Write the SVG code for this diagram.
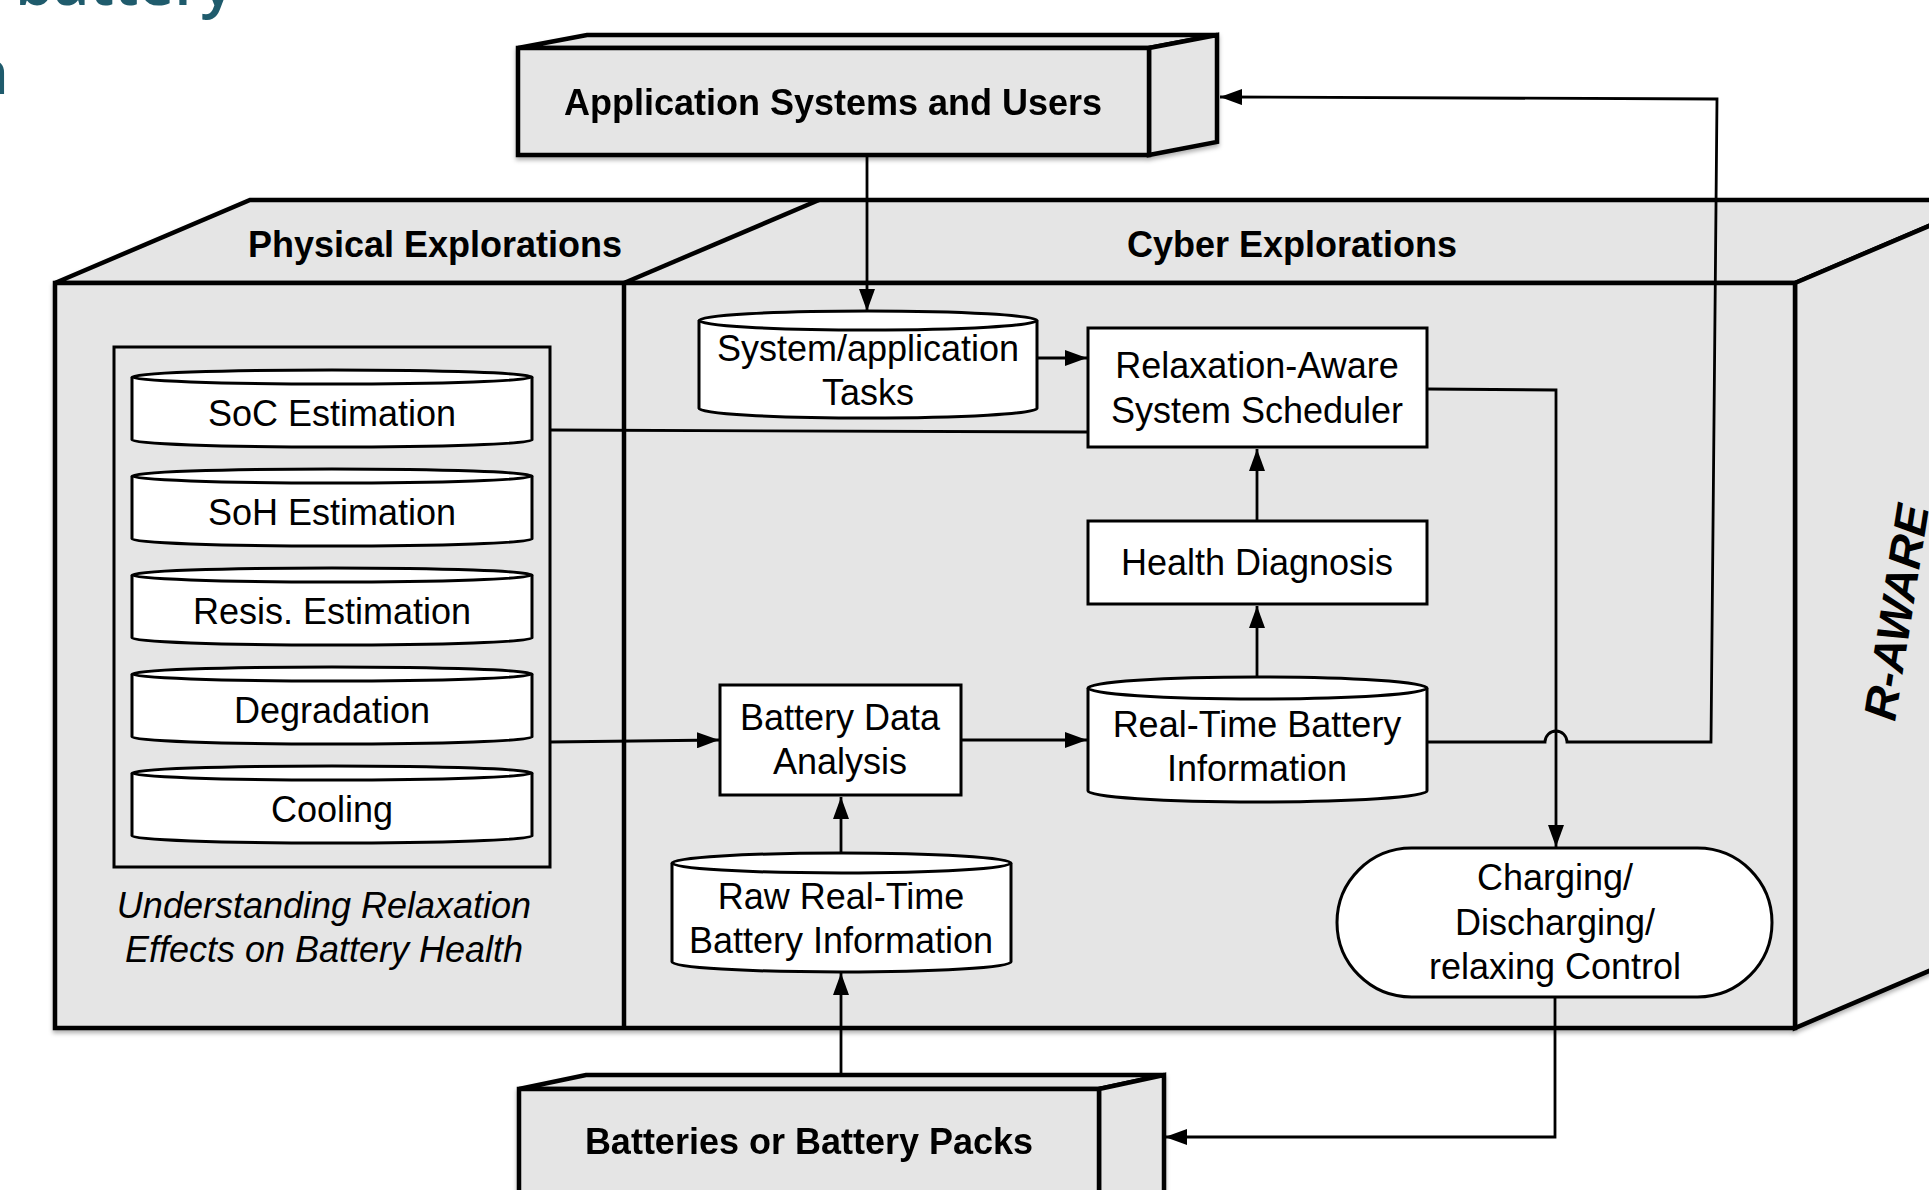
<svg xmlns="http://www.w3.org/2000/svg" width="1929" height="1190" viewBox="0 0 1929 1190">
<defs>
<style>
.box3d{fill:#e5e5e5;stroke:#000;stroke-width:4.5;stroke-linejoin:miter}
.node{fill:#fff;stroke:#000;stroke-width:3}
.rim{fill:none;stroke:#000;stroke-width:3}
.conn{fill:none;stroke:#000;stroke-width:2.8}
.arr{marker-end:url(#ah)}
.t{font-family:"Liberation Sans",Arial,Helvetica,sans-serif;font-size:36px;text-anchor:middle;fill:#000}
.b{font-weight:bold}
.i{font-style:italic}
.teal{font-family:"Open Sans","Noto Sans",sans-serif;font-size:62px;font-weight:600;fill:#1f5b6c}
</style>
<marker id="ah" markerUnits="userSpaceOnUse" markerWidth="22" markerHeight="16" refX="22" refY="8" orient="auto">
<path d="M0,0 L22,8 L0,16 Z" fill="#000"/>
</marker>
<filter id="sh" x="-5%" y="-5%" width="110%" height="115%">
<feDropShadow dx="0" dy="3" stdDeviation="2" flood-color="#000" flood-opacity="0.3"/>
</filter>
</defs>
<rect width="1929" height="1190" fill="#fff"/>

<text class="teal" x="15" y="5">battery</text>
<text class="teal" x="9" y="94" text-anchor="end">n</text>

<g id="r-aware-container" filter="url(#sh)">
<polygon class="box3d" points="55,283 250,200 1990,200 1795,283"/>
<polygon class="box3d" points="1795,283 1990,200 1990,945 1795,1028"/>
<rect class="box3d" x="55" y="283" width="1740" height="745"/>
<line x1="624" y1="283" x2="624" y2="1028" stroke="#000" stroke-width="4.5"/>
<line x1="624" y1="283" x2="819" y2="200" stroke="#000" stroke-width="4.5"/>
</g>
<text class="t b" x="435" y="257">Physical Explorations</text>
<text class="t b" x="1292" y="257">Cyber Explorations</text>
<text class="t b i" style="font-size:46px;text-anchor:start" transform="translate(1895,722) rotate(-81)">R-AWARE</text>

<g id="app-systems" filter="url(#sh)">
<polygon class="box3d" points="518,48 587,35 1217,35 1149,48"/>
<polygon class="box3d" points="1149,48 1217,35 1217,142 1149,155"/>
<rect class="box3d" x="518" y="48" width="631" height="107"/>
<text class="t b" x="833" y="115">Application Systems and Users</text>
</g>

<g id="batteries" filter="url(#sh)">
<polygon class="box3d" points="519,1089 586,1075 1164,1075 1099,1089"/>
<polygon class="box3d" points="1099,1089 1164,1075 1164,1192 1099,1206"/>
<rect class="box3d" x="519" y="1089" width="580" height="120"/>
<text class="t b" x="809" y="1154">Batteries or Battery Packs</text>
</g>

<g id="physical-group">
<rect x="114" y="347" width="436" height="520" fill="none" stroke="#000" stroke-width="3"/>
<text class="t i" x="324" y="918">Understanding Relaxation</text>
<text class="t i" x="324" y="962">Effects on Battery Health</text>
</g>

<g id="soc">
<path class="node" d="M132,377 V440 A200,7 0 0 0 532,440 V377 A200,7 0 0 0 132,377 Z"/>
<path class="rim" d="M132,377 A200,7 0 0 0 532,377"/>
<text class="t" x="332" y="426">SoC Estimation</text>
</g>
<g id="soh">
<path class="node" d="M132,476 V539 A200,7 0 0 0 532,539 V476 A200,7 0 0 0 132,476 Z"/>
<path class="rim" d="M132,476 A200,7 0 0 0 532,476"/>
<text class="t" x="332" y="525">SoH Estimation</text>
</g>
<g id="resis">
<path class="node" d="M132,575 V638 A200,7 0 0 0 532,638 V575 A200,7 0 0 0 132,575 Z"/>
<path class="rim" d="M132,575 A200,7 0 0 0 532,575"/>
<text class="t" x="332" y="624">Resis. Estimation</text>
</g>
<g id="degradation">
<path class="node" d="M132,674 V737 A200,7 0 0 0 532,737 V674 A200,7 0 0 0 132,674 Z"/>
<path class="rim" d="M132,674 A200,7 0 0 0 532,674"/>
<text class="t" x="332" y="723">Degradation</text>
</g>
<g id="cooling">
<path class="node" d="M132,773 V836 A200,7 0 0 0 532,836 V773 A200,7 0 0 0 132,773 Z"/>
<path class="rim" d="M132,773 A200,7 0 0 0 532,773"/>
<text class="t" x="332" y="822">Cooling</text>
</g>

<g id="connectors">
<path class="conn arr" d="M867,155 V311"/>
<path class="conn arr" d="M1037,358 H1087"/>
<path class="conn" d="M550,430 L1088,432"/>
<path class="conn arr" d="M1257,521 V449"/>
<path class="conn arr" d="M1257,677 V606"/>
<path class="conn arr" d="M550,742 L719,740"/>
<path class="conn arr" d="M961,740 H1087"/>
<path class="conn arr" d="M841,853 V797"/>
<path class="conn arr" d="M841,1075 V973"/>
<path class="conn arr" d="M1427,389 L1556,390 V847"/>
<path class="conn arr" d="M1427,742 H1545 A11,11 0 0 1 1567,742 H1711 L1717,99 L1220,97"/>
<path class="conn arr" d="M1555,997 V1137 H1165"/>
</g>

<g id="tasks">
<path class="node" d="M699,320.5 V408.5 A169,9.5 0 0 0 1037,408.5 V320.5 A169,9.5 0 0 0 699,320.5 Z"/>
<path class="rim" d="M699,320.5 A169,9.5 0 0 0 1037,320.5"/>
<text class="t" x="868" y="361">System/application</text>
<text class="t" x="868" y="405">Tasks</text>
</g>
<g id="scheduler">
<rect class="node" x="1088" y="328" width="339" height="119"/>
<text class="t" x="1257" y="378">Relaxation-Aware</text>
<text class="t" x="1257" y="423">System Scheduler</text>
</g>
<g id="health">
<rect class="node" x="1088" y="521" width="339" height="83"/>
<text class="t" x="1257" y="575">Health Diagnosis</text>
</g>
<g id="realtime">
<path class="node" d="M1088,688 V791 A169.5,11 0 0 0 1427,791 V688 A169.5,11 0 0 0 1088,688 Z"/>
<path class="rim" d="M1088,688 A169.5,11 0 0 0 1427,688"/>
<text class="t" x="1257" y="737">Real-Time Battery</text>
<text class="t" x="1257" y="781">Information</text>
</g>
<g id="bda">
<rect class="node" x="720" y="685" width="241" height="110"/>
<text class="t" x="840" y="730">Battery Data</text>
<text class="t" x="840" y="774">Analysis</text>
</g>
<g id="raw">
<path class="node" d="M672,863 V962 A169.5,10 0 0 0 1011,962 V863 A169.5,10 0 0 0 672,863 Z"/>
<path class="rim" d="M672,863 A169.5,10 0 0 0 1011,863"/>
<text class="t" x="841" y="909">Raw Real-Time</text>
<text class="t" x="841" y="953">Battery Information</text>
</g>
<g id="charging">
<rect class="node" x="1337" y="848" width="435" height="149" rx="74.5" ry="74.5"/>
<text class="t" x="1555" y="890">Charging/</text>
<text class="t" x="1555" y="935">Discharging/</text>
<text class="t" x="1555" y="979">relaxing Control</text>
</g>
</svg>
